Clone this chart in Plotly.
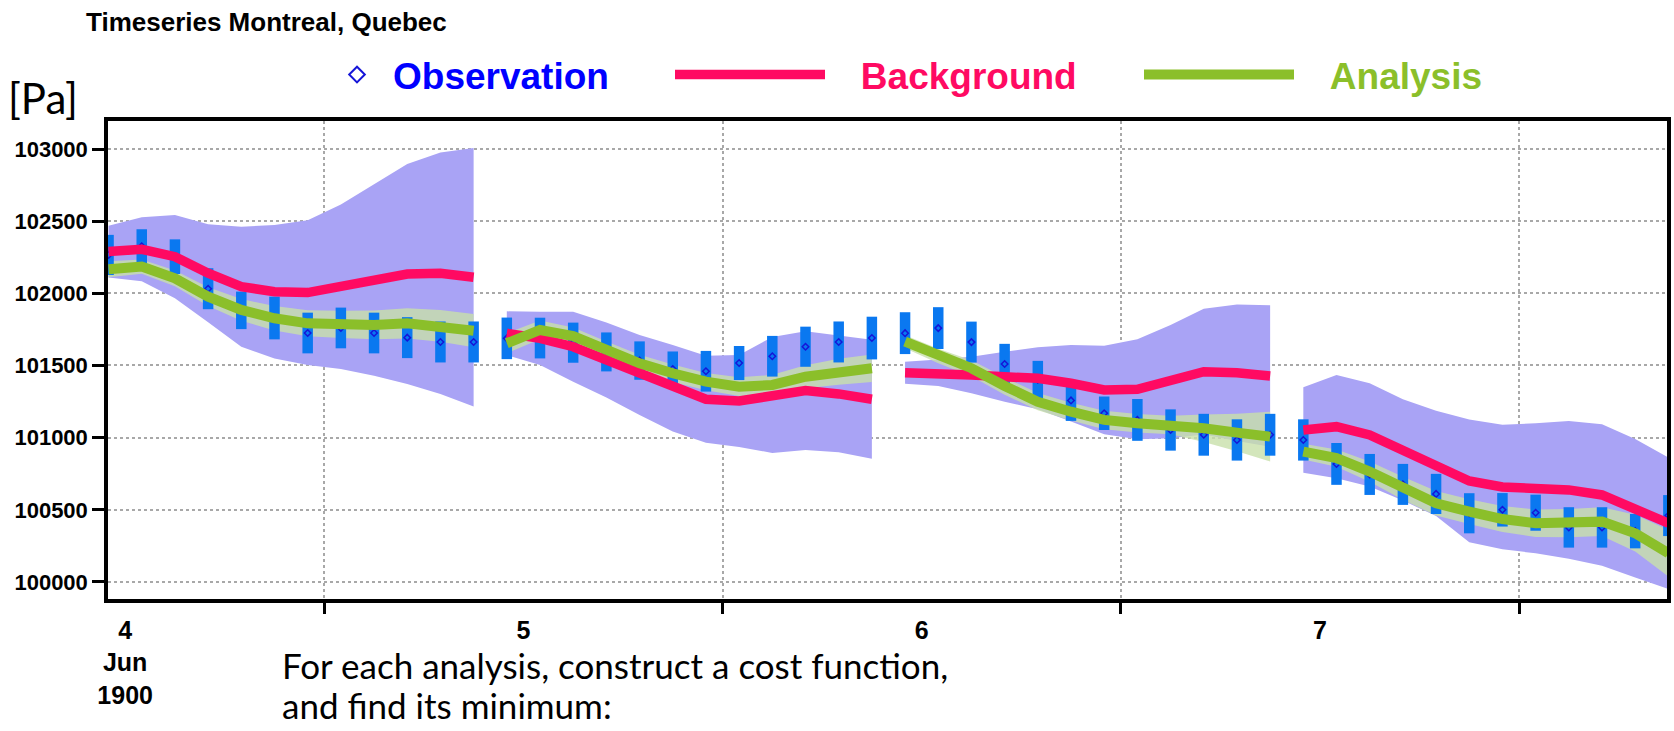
import pandas as pd
import plotly.graph_objects as go

# Analysis cycles: each cycle holds 12 values, two hours apart
cycle_starts = ["1900-06-04 11:00", "1900-06-05 11:00", "1900-06-06 11:00", "1900-06-07 11:00"]

# Observed surface pressure [Pa] and its error
obs_1 = [102266, 102326, 102254, 102032, 101882, 101829, 101725, 101760, 101725, 101693, 101663, 101663]
obs_2 = [101688, 101690, 101658, 101594, 101534, 101476, 101460, 101517, 101564, 101630, 101663, 101690]
obs_3 = [101724, 101759, 101662, 101510, 101402, 101258, 101169, 101123, 101053, 101020, 100984, 101020]
obs_4 = [100984, 100818, 100745, 100676, 100610, 100476, 100500, 100480, 100378, 100378, 100352, 100460]
obs_err_1 = [139, 118, 120, 142, 130, 148, 141, 141, 141, 142, 142, 142]
obs_err_2 = [144, 141, 139, 135, 133, 121, 141, 118, 141, 139, 142, 148]
obs_err_3 = [145, 145, 142, 140, 130, 142, 116, 145, 143, 145, 143, 145]
obs_err_4 = [143, 145, 142, 142, 139, 139, 116, 125, 140, 140, 119, 142]

# Background (first guess) and its error
bkg_1 = [102289, 102305, 102254, 102139, 102046, 102011, 102005, 102046, 102092, 102134, 102139, 102111]
bkg_2 = [101723, 101688, 101630, 101538, 101434, 101342, 101266, 101254, 101296, 101326, 101303, 101266]
bkg_3 = [101450, 101450, 101434, 101422, 101411, 101377, 101330, 101335, 101388, 101457, 101450, 101427]
bkg_4 = [101053, 101076, 101019, 100915, 100822, 100700, 100658, 100649, 100638, 100603, 100511, 100407]
bkg_err_1 = [180, 222, 289, 340, 416, 462, 502, 570, 663, 762, 836, 896]
bkg_err_2 = [152, 185, 243, 259, 277, 300, 302, 319, 402, 411, 404, 413]
bkg_err_3 = [76, 92, 127, 173, 215, 265, 307, 346, 393, 436, 473, 490]
bkg_err_4 = [296, 358, 358, 351, 365, 425, 432, 450, 477, 490, 480, 455]

# Analysis and its error
ana_1 = [102167, 102185, 102104, 101977, 101885, 101827, 101792, 101785, 101781, 101792, 101774, 101741]
ana_2 = [101654, 101746, 101704, 101607, 101515, 101446, 101388, 101353, 101365, 101422, 101457, 101481]
ana_3 = [101665, 101566, 101481, 101358, 101249, 101180, 101123, 101100, 101088, 101065, 101035, 101007]
ana_4 = [100903, 100858, 100765, 100649, 100545, 100488, 100436, 100407, 100407, 100418, 100338, 100199]
ana_err_1 = [55, 50, 55, 65, 75, 85, 90, 95, 100, 105, 110, 115]
ana_err_2 = [70, 65, 60, 60, 60, 60, 60, 65, 70, 80, 90, 95]
ana_err_3 = [45, 50, 55, 60, 60, 62, 64, 64, 64, 95, 130, 173]
ana_err_4 = [55, 60, 70, 80, 85, 86, 90, 95, 98, 100, 127, 162]

day_ticks = ["1900-06-04 12:00", "1900-06-05 12:00", "1900-06-06 12:00", "1900-06-07 12:00"]
day_labels = ["4<br>Jun<br>1900", "5", "6", "7"]
day_bounds = ["1900-06-05", "1900-06-06", "1900-06-07", "1900-06-08"]
pressure_ticks = [100000, 100500, 101000, 101500, 102000, 102500, 103000]

obs = [obs_1, obs_2, obs_3, obs_4]
obs_err = [obs_err_1, obs_err_2, obs_err_3, obs_err_4]
bkg = [bkg_1, bkg_2, bkg_3, bkg_4]
bkg_err = [bkg_err_1, bkg_err_2, bkg_err_3, bkg_err_4]
ana = [ana_1, ana_2, ana_3, ana_4]
ana_err = [ana_err_1, ana_err_2, ana_err_3, ana_err_4]

times = [list(pd.date_range(s, periods=12, freq="2h")) for s in cycle_starts]

SANS = "Liberation Sans, Arial, Helvetica, sans-serif"
BODY = "Lato, Open Sans, sans-serif"
RED = "#ff0a62"
GREEN = "#8bbf2a"
BLUE = "#0000ff"
BAR = "#0a78f0"
PURPLE = "#a9a3f5"
ANA_BAND = "rgba(200,224,170,0.8)"
GAP = "\u00a0\u00a0\u00a0"

fig = go.Figure()


def band(t, mid, err, color):
    upper = [m + e for m, e in zip(mid, err)]
    lower = [m - e for m, e in zip(mid, err)]
    return go.Scatter(
        x=t + t[::-1], y=upper + lower[::-1], fill="toself", fillcolor=color,
        mode="none", hoverinfo="skip", showlegend=False,
    )


for t, m, e in zip(times, bkg, bkg_err):
    fig.add_trace(band(t, m, e, PURPLE))
for t, m, e in zip(times, ana, ana_err):
    fig.add_trace(band(t, m, e, ANA_BAND))

all_t = [v for t in times for v in t]
fig.add_trace(go.Scatter(
    x=all_t, y=[v for o in obs for v in o], mode="markers",
    name="Observation", legend="legend",
    marker=dict(symbol="diamond-open", size=5, color="#1515d8", line=dict(width=1.5, color="#1515d8")),
    error_y=dict(type="data", array=[v for o in obs_err for v in o], visible=True,
                 thickness=10.5, width=0, color=BAR),
))


def joined(series):
    xs, ys = [], []
    for t, s in zip(times, series):
        xs += t + [None]
        ys += s + [None]
    return xs, ys


bx, by = joined(bkg)
fig.add_trace(go.Scatter(x=bx, y=by, mode="lines", name=GAP + "Background", legend="legend2",
                         line=dict(color=RED, width=9.5), connectgaps=False))
ax_, ay_ = joined(ana)
fig.add_trace(go.Scatter(x=ax_, y=ay_, mode="lines", name=GAP + "Analysis", legend="legend3",
                         line=dict(color=GREEN, width=10), connectgaps=False))

W, H = 1674, 731
L, R, T, B = 108, 1671, 121, 599


def px(x):
    return (x - L) / (R - L)


def py(y):
    return (B - y) / (B - T)


legend_common = dict(orientation="h", xref="container", yref="container",
                     xanchor="left", yanchor="middle", bgcolor="rgba(0,0,0,0)",
                     borderwidth=0, y=(H - 75) / H)
legend_font = dict(family=SANS, size=37, weight="bold")

fig.update_layout(
    width=W, height=H,
    margin=dict(l=L, r=W - R, t=T, b=H - B),
    paper_bgcolor="white", plot_bgcolor="white",
    legend=dict(**legend_common, x=321 / W, itemwidth=62, itemsizing="constant",
                font=dict(**legend_font, color=BLUE)),
    legend2=dict(**legend_common, x=670 / W, itemwidth=150,
                 font=dict(**legend_font, color=RED)),
    legend3=dict(**legend_common, x=1139 / W, itemwidth=150,
                 font=dict(**legend_font, color=GREEN)),
    xaxis=dict(
        type="date", range=["1900-06-04 10:58", "1900-06-08 08:55"],
        showline=True, linewidth=3.5, linecolor="black", mirror=True,
        tickmode="array", tickvals=day_ticks, ticktext=day_labels, ticks="",
        showgrid=False, zeroline=False, ticklabelstandoff=6,
        tickfont=dict(family=SANS, size=25, color="black", weight="bold"),
        minor=dict(tickmode="array", tickvals=day_bounds, ticks="outside", ticklen=11,
                   tickwidth=3, tickcolor="black", showgrid=True, gridcolor="#a8a8a8",
                   griddash="dot", gridwidth=1.5),
    ),
    yaxis=dict(
        range=[99882, 103194], tickmode="array", tickvals=pressure_ticks, tickformat="d",
        showline=True, linewidth=3.5, linecolor="black", mirror=True,
        ticks="outside", ticklen=12, tickwidth=3, tickcolor="black",
        showgrid=True, gridcolor="#a8a8a8", griddash="dot", gridwidth=1.5, zeroline=False,
        tickfont=dict(family=SANS, size=22, color="black", weight="bold"),
    ),
    annotations=[
        dict(text="Timeseries Montreal, Quebec", xref="paper", yref="paper",
             x=px(84), y=py(22), xanchor="left", yanchor="middle", showarrow=False,
             font=dict(family=SANS, size=26, color="black", weight="bold")),
        dict(text="[Pa]", xref="paper", yref="paper", x=px(6), y=py(98),
             xanchor="left", yanchor="middle", showarrow=False,
             font=dict(family=BODY, size=42, color="black")),
        dict(text="For each analysis, construct a cost function,", xref="paper", yref="paper",
             x=px(280), y=py(665), xanchor="left", yanchor="middle", showarrow=False,
             font=dict(family=BODY, size=35, color="black")),
        dict(text="and find its minimum:", xref="paper", yref="paper",
             x=px(280), y=py(705), xanchor="left", yanchor="middle", showarrow=False,
             font=dict(family=BODY, size=35, color="black")),
    ],
)

fig.write_html("out.html")
